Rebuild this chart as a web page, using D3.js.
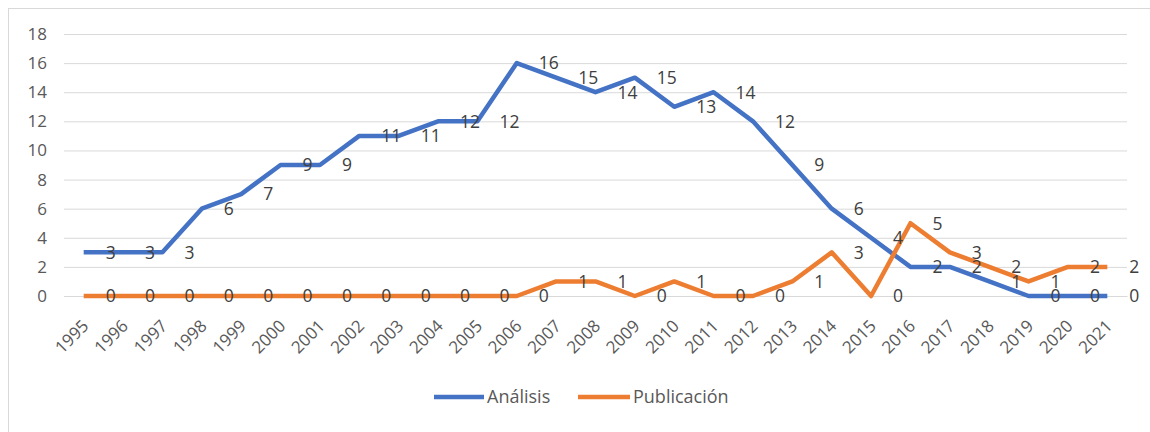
<!DOCTYPE html>
<html>
<head>
<meta charset="utf-8">
<script src="https://cdn.jsdelivr.net/npm/d3@7"></script>
<style>
  html, body { margin: 0; padding: 0; background: #fff; }
  svg { display: block; }
  text { font-family: "Open Sans", "Noto Sans", sans-serif; }
</style>
</head>
<body>
<svg id="chart" width="1150" height="432"></svg>
<script>
// Years on the category axis
const years = ["1995","1996","1997","1998","1999","2000","2001","2002","2003","2004",
  "2005","2006","2007","2008","2009","2010","2011","2012","2013","2014",
  "2015","2016","2017","2018","2019","2020","2021"];

// Counts per year for each series
const analisis = [3,3,3,6,7,9,9,11,11,12,12,16,15,14,15,13,14,12,9,6,4,2,2,1,0,0,0];
const publicacion = [0,0,0,0,0,0,0,0,0,0,0,0,1,1,0,1,0,0,1,3,0,5,3,2,1,2,2];

const yTicks = [0,2,4,6,8,10,12,14,16,18];

const seriesNames = ["Análisis", "Publicación"];
const seriesColors = ["#4472C4", "#ED7D31"];

const svg = d3.select("#chart");
const W = 1150, H = 432;
const plot = { left: 64, right: 1127, top: 34, bottom: 296 };

// Outer chart frame
svg.append("rect")
  .attr("x", 8.5).attr("y", 8.5)
  .attr("width", W + 20).attr("height", H + 20)
  .attr("fill", "#fff").attr("stroke", "#d9d9d9").attr("stroke-width", 1);

const x = d3.scaleBand().domain(years).range([plot.left, plot.right]);
const xc = d => x(d) + x.bandwidth() / 2;
const y = d3.scaleLinear().domain([0, 18]).range([plot.bottom, plot.top]);

// Horizontal gridlines and y labels
const yAxis = d3.axisLeft(y).tickValues(yTicks)
  .tickSize(-(plot.right - plot.left)).tickPadding(17);
const gy = svg.append("g")
  .attr("transform", `translate(${plot.left},0)`)
  .call(yAxis);
gy.select(".domain").remove();
gy.selectAll(".tick line").attr("stroke", "#d9d9d9").attr("stroke-width", 1);
gy.selectAll(".tick text").attr("fill", "#595959").attr("font-size", 17);

// Category labels, rotated
const xAxis = d3.axisBottom(x).tickSize(0).tickPadding(0);
const gx = svg.append("g")
  .attr("transform", `translate(0,${plot.bottom})`)
  .call(xAxis);
gx.select(".domain").attr("stroke", "#d9d9d9");
gx.selectAll(".tick text")
  .attr("fill", "#595959").attr("font-size", 17)
  .attr("text-anchor", "end")
  .attr("dy", 0)
  .attr("transform", "translate(6,31) rotate(-45)");

// Series lines
const series = [analisis, publicacion];
const line = d3.line().x((d, i) => xc(years[i])).y(d => y(d));
series.forEach((vals, s) => {
  svg.append("path")
    .datum(vals)
    .attr("fill", "none")
    .attr("stroke", seriesColors[s])
    .attr("stroke-width", 4.5)
    .attr("stroke-linejoin", "round")
    .attr("d", line);
});

// Value labels to the right of each point
series.forEach((vals, s) => {
  svg.append("g").selectAll("text")
    .data(vals)
    .join("text")
    .attr("x", (d, i) => xc(years[i]) + 22)
    .attr("y", d => y(d))
    .attr("dy", "0.36em")
    .attr("fill", "#404040")
    .attr("font-size", 17.5)
    .text(d => d);
});

// Legend
const legendItems = [
  { name: seriesNames[0], color: seriesColors[0], x0: 434, x1: 484, tx: 487 },
  { name: seriesNames[1], color: seriesColors[1], x0: 578, x1: 630, tx: 633 }
];
const lg = svg.append("g");
legendItems.forEach(it => {
  lg.append("line")
    .attr("x1", it.x0).attr("x2", it.x1)
    .attr("y1", 397).attr("y2", 397)
    .attr("stroke", it.color).attr("stroke-width", 4.5);
  lg.append("text")
    .attr("x", it.tx).attr("y", 397).attr("dy", "0.36em")
    .attr("fill", "#595959").attr("font-size", 18)
    .text(it.name);
});
</script>
</body>
</html>
